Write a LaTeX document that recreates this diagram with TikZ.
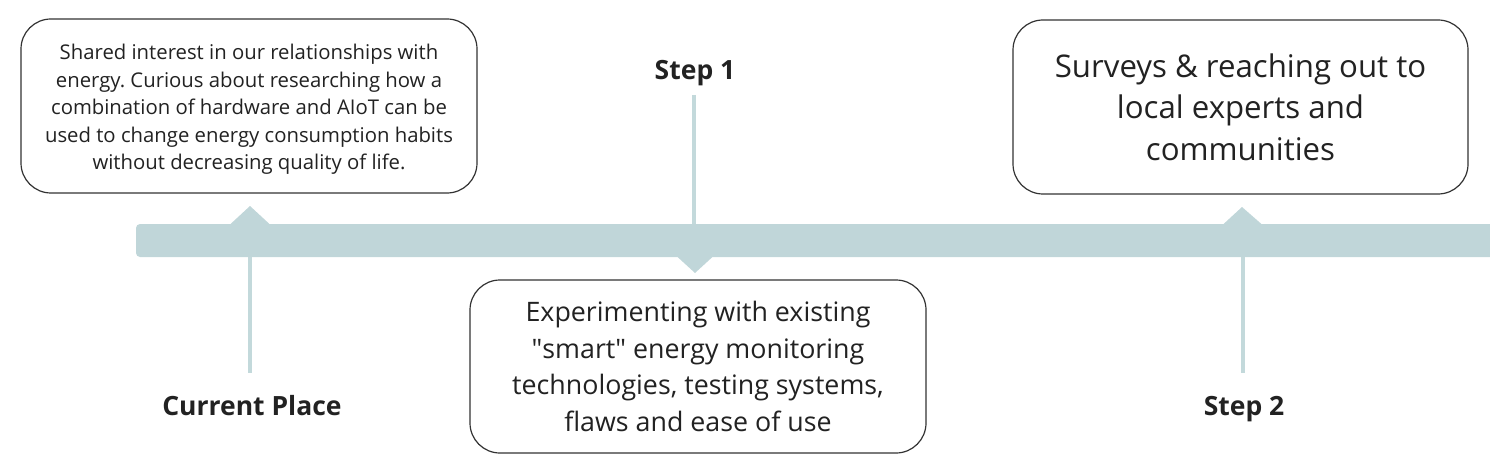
\documentclass[tikz,border=0pt]{standalone}
\usepackage{fontspec}
\setmainfont{Open Sans}
\newfontfamily\rawfont{Open Sans}
\frenchspacing
\definecolor{barcol}{HTML}{C0D6D9}
\definecolor{stemcol}{HTML}{C3D9DB}
\definecolor{txt}{HTML}{222222}
\definecolor{edge}{HTML}{333333}
\tikzset{
  card/.style={draw=edge, line width=1.2pt, rounded corners=30pt, fill=white,
    align=center, text=txt, inner sep=0pt},
  cardtext/.style={align=center, text=txt, inner sep=0pt},
  milestone/.style={font=\bfseries\fontsize{26.5}{30}\selectfont, text=txt, inner sep=0pt, anchor=base},
  stem/.style={draw=stemcol, line width=3.5pt},
  pointer/.style={fill=barcol, draw=none}
}
\begin{document}
\begin{tikzpicture}[x=1pt,y=-1pt]
\useasboundingbox (0,0) rectangle (1490,473);
% bar
\fill[barcol, rounded corners=4pt] (136,224) rectangle (1500,257);
% pointers
\fill[pointer] (230,224.5) -- (250,206) -- (270,224.5) -- cycle;
\fill[pointer] (677,256.5) -- (695,273) -- (713,256.5) -- cycle;
\fill[pointer] (1223,224.5) -- (1242,207) -- (1262,224.5) -- cycle;
% cards
\node[card, minimum width=456pt, minimum height=174pt] (c1) at (249,106) {};
\node[cardtext, font=\fontsize{20.3}{27.5}\selectfont] (t1) at ([yshift=-3.5pt]c1.center)
  {Shared interest in our relationships with\\energy. Curious about researching how a\\combination of hardware and AIoT can be\\used to change energy consumption habits\\without decreasing quality of life.};
\node[card, minimum width=456pt, minimum height=173pt,
  font=\fontsize{26.8}{36.7}\selectfont] (c2) at (698,366.5)
  {Experimenting with existing\\{\rawfont"}smart{\rawfont"} energy monitoring\\technologies, testing systems,\\flaws and ease of use};
\node[card, minimum width=455pt, minimum height=174pt,
  font=\fontsize{31.2}{41.5}\selectfont] (c3) at (1240.5,107)
  {Surveys \& reaching out to\\local experts and\\communities};
% labels
\node[milestone] (l0) at (252,415) {Current Place};
\node[milestone] (l1) at (695,80) {Step 1};
\node[milestone] (l2) at (1244,415) {Step 2};
% stems
\coordinate (s0a) at (250,257); \coordinate (s0b) at (250,373);
\coordinate (s1a) at (694,95);  \coordinate (s1b) at (694,224);
\coordinate (s2a) at (1243,257); \coordinate (s2b) at (1243,373);
\draw[stem] (s0a) -- (s0b);
\draw[stem] (s1a) -- (s1b);
\draw[stem] (s2a) -- (s2b);
\end{tikzpicture}
\end{document}
